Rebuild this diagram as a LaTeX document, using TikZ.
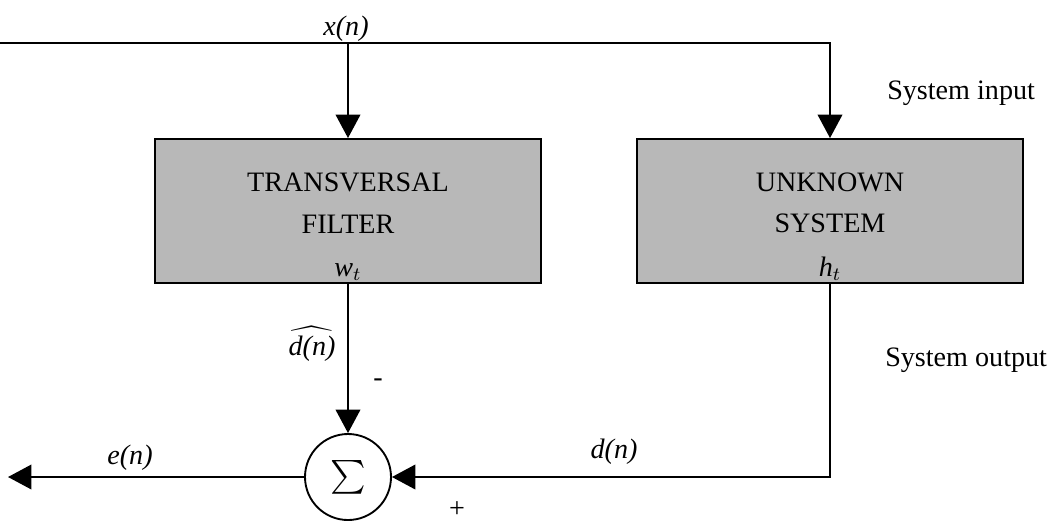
\documentclass[tikz,border=0pt]{standalone}
\usepackage{fontspec}
\setmainfont{Liberation Serif}
\usepackage{amsmath}
\usetikzlibrary{positioning, arrows.meta, calc}

\begin{document}
\begin{tikzpicture}[
  x=0.015cm, y=-0.015cm,
  every node/.style={font=\fontsize{12}{14}\selectfont},
  arr/.style={-{Triangle[length=10pt, width=10.5pt]}, line width=0.8pt},
  sysbox/.style={draw, line width=0.8pt, fill=black!28,
                 minimum width=5.8cm, minimum height=2.16cm, inner sep=0pt},
  sumbox/.style={draw, circle, line width=0.8pt, fill=white,
                 minimum size=1.29cm, inner sep=0pt},
  boxtxt/.style={align=center, font=\fontsize{12}{17.7}\selectfont},
  sig/.style={font=\fontsize{12}{14}\selectfont\itshape}
]
\useasboundingbox (0,0) rectangle (1055,525);

% ---- Blocks ----
\node[sysbox] (filter)  at (348,211) {};
\node[sysbox] (unknown) at (830,211) {};
\node[sumbox] (sum)     at (348,477) {\fontsize{14}{16}\selectfont$\sum$};

% ---- Text inside the blocks ----
\node[boxtxt] (filtxt) at (348,203) {TRANSVERSAL\\FILTER};
\node[sig, anchor=base] (wt) at (348,276) {w$_t$};
\node[boxtxt] (unktxt) at (830,203) {UNKNOWN\\SYSTEM};
\node[sig, anchor=base] (ht) at (830,276) {h$_t$};

% ---- Free ends ----
\coordinate (xin)  at (0,43);
\coordinate (eout) at (8,477);

% ---- Connectors ----
\draw[arr] (xin) -| (unknown.north);
\draw[arr] (xin -| filter.north) -- (filter.north);
\draw[arr] (filter.south) -- (sum.north);
\draw[arr] (unknown.south) |- (sum.east);
\draw[arr] (sum.west) -- (eout);

% ---- Signal labels ----
\node[sig, anchor=base] (xn) at (346,35)  {x(n)};
\node[sig, anchor=base] (dn) at (614,458) {d(n)};
\node[sig, anchor=base] (en) at (130,464) {e(n)};
\node[anchor=base, inner sep=1pt] (dhat) at (312,355) {$\widehat{\textit{d(n)}}$};
\node (minus) at (378,383) {-};
\node[inner sep=1pt] (plus)  at (457,510) {+};

% ---- Side notes ----
\node[anchor=base west] (sysin)  at (879,99)  {System input};
\node[anchor=base west] (sysout) at (877,366) {System output};

\end{tikzpicture}
\end{document}
